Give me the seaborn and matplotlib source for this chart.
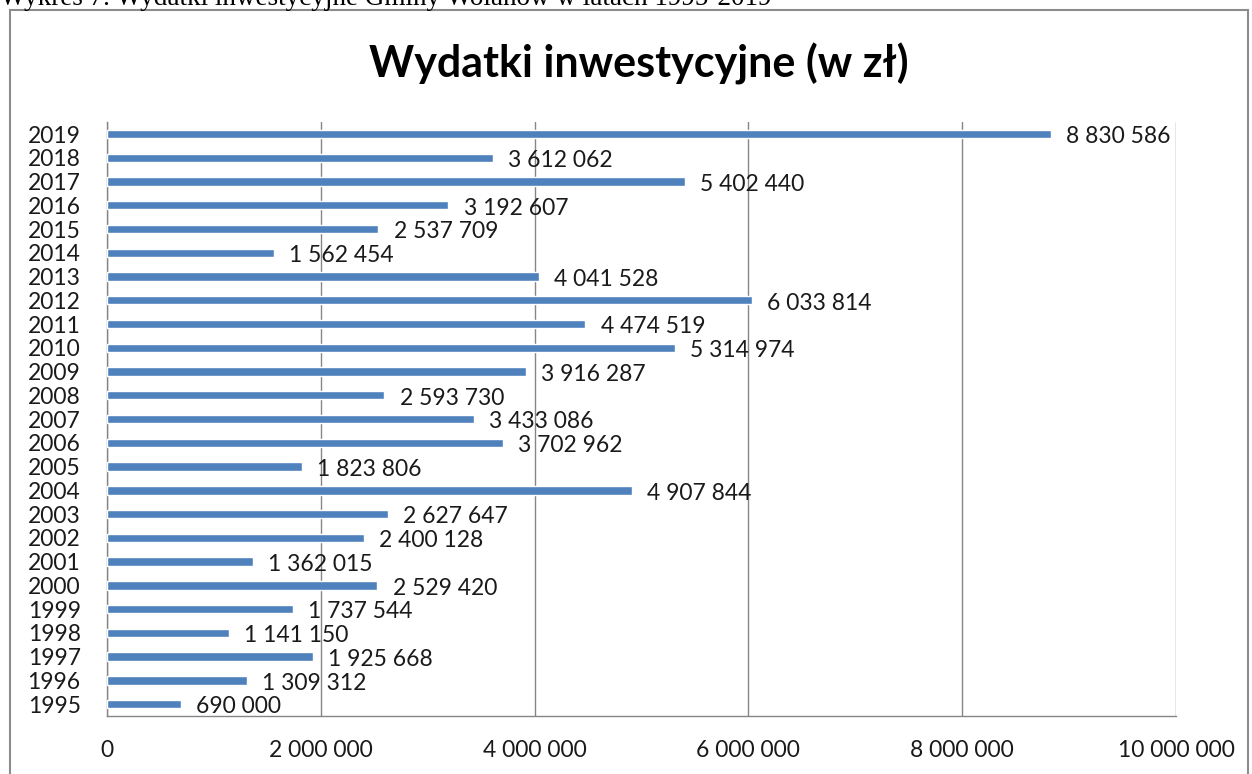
import matplotlib
matplotlib.use("Agg")
import matplotlib.pyplot as plt
import matplotlib.patches as patches
from matplotlib.ticker import FuncFormatter, FixedLocator
import pandas as pd
import seaborn as sns

years = [1995, 1996, 1997, 1998, 1999, 2000, 2001, 2002, 2003, 2004, 2005, 2006, 2007,
         2008, 2009, 2010, 2011, 2012, 2013, 2014, 2015, 2016, 2017, 2018, 2019]
wydatki = [690000, 1309312, 1925668, 1141150, 1737544, 2529420, 1362015, 2400128, 2627647,
           4907844, 1823806, 3702962, 3433086, 2593730, 3916287, 5314974, 4474519, 6033814,
           4041528, 1562454, 2537709, 3192607, 5402440, 3612062, 8830586]
x_ticks = [0, 2000000, 4000000, 6000000, 8000000, 10000000]

df = pd.DataFrame({"rok": [str(y) for y in years], "wydatki": wydatki})
order = [str(y) for y in years[::-1]]

sns.set_style("white")
plt.rcParams['font.family'] = ['Lato', 'DejaVu Sans']

def fmt(v):
    return f"{int(v):,}".replace(",", " ")

fig = plt.figure(figsize=(12.52, 7.74), dpi=100)
ax = fig.add_axes([0.0855, 0.0749, 0.8538, 0.7673])

sns.barplot(data=df, x="wydatki", y="rok", order=order, orient="h",
            color="#4f81bd", saturation=1, width=0.35, ax=ax, zorder=3)

ax.set_xlim(0, 10000000)
ax.set_ylim(len(order) - 0.5, -0.5)
ax.set_xticks(x_ticks)
ax.xaxis.set_major_formatter(FuncFormatter(lambda v, p: fmt(v)))
ax.grid(axis="x", color="#868686", linewidth=1, zorder=0)
ax.set_axisbelow(True)
ax.set_xlabel("")
ax.set_ylabel("")

for s in ["top", "right"]:
    ax.spines[s].set_visible(False)
for s in ["left", "bottom"]:
    ax.spines[s].set_color("#868686")
    ax.spines[s].set_linewidth(1)

ax.yaxis.set_minor_locator(FixedLocator([i - 0.5 for i in range(len(order) + 1)]))
ax.tick_params(axis="y", which="major", length=0, labelsize=16.5, pad=19, colors="#1a1a1a")
ax.tick_params(axis="y", which="minor", length=6, width=1, color="#868686", direction="out")
ax.tick_params(axis="x", which="major", length=6, width=1, color="#868686",
               labelsize=16.5, pad=11, labelcolor="#1a1a1a")

for i, r in enumerate(order):
    v = df.loc[df["rok"] == r, "wydatki"].iloc[0]
    ax.annotate(fmt(v), (v, i), xytext=(11, -2), textcoords="offset points",
                va="center", ha="left", fontsize=16.5, color="#1a1a1a")

fig.text(0.51, 0.917, "Wydatki inwestycyjne (w zł)", ha="center", va="center",
         fontsize=31, fontweight="bold", color="#000000")

fig.text(0.0, 1.002, "Wykres 7. Wydatki inwestycyjne Gminy Wołanów w latach 1995-2019",
         ha="left", va="center", fontsize=19.5, family=["Liberation Serif"], color="#000000")

frame = patches.Rectangle((10 / 1252, -0.05), 1238 / 1252, 1.05 - 10 / 774,
                          transform=fig.transFigure, fill=False,
                          edgecolor="#8c8c8c", linewidth=1.5)
fig.patches.append(frame)

fig.savefig("out.png", dpi=100)
